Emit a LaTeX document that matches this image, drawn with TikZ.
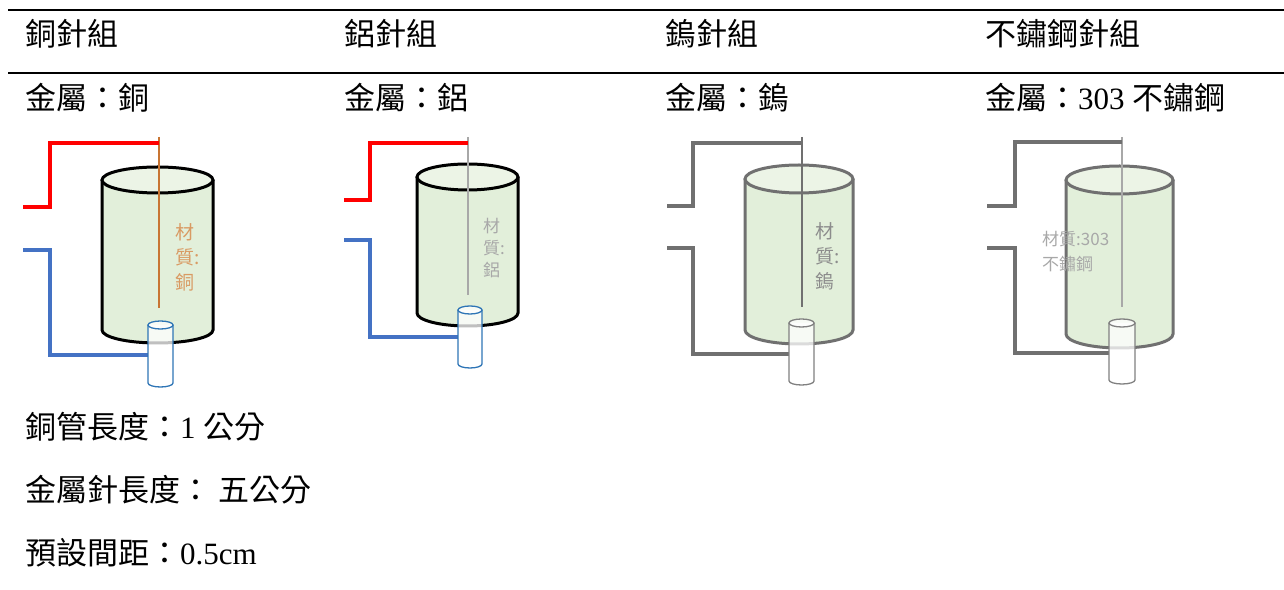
\documentclass[tikz,border=0pt]{standalone}
\usepackage{fontspec}
\setmainfont{Liberation Serif}
\newfontfamily\cjk{Noto Sans CJK TC}

\definecolor{liquid}{HTML}{E2EFDA}
\definecolor{liquidtop}{HTML}{ECF4E6}
\definecolor{wireblue}{HTML}{4472C4}
\definecolor{pipeblue}{HTML}{2E75B6}
\definecolor{copper}{HTML}{C87533}
\definecolor{coppertag}{HTML}{D99A63}
\definecolor{wiregray}{HTML}{707070}
\definecolor{pipegray}{HTML}{808080}
\definecolor{paletag}{HTML}{A8A8A8}
\definecolor{midtag}{HTML}{8C8C8C}

\tikzset{
  head/.style={anchor=west,inner sep=0pt,font=\fontsize{31}{37}\selectfont},
  rule/.style={line width=2.5pt},
  wire/.style={line width=4.5pt},
  needle/.style={line width=2pt},
  pipe/.style={line width=1.3pt,fill=white,fill opacity=.75},
  tag/.style={anchor=west,inner sep=0pt,align=left,font=\cjk\fontsize{19}{25}\selectfont},
}

% beaker: left x, right x, top y, bottom y, y radius, outline colour
\newcommand\beaker[6]{%
  \pgfmathsetmacro\bkrx{(#2-#1)/2}
  \fill[liquid] (#1,#3) -- (#1,#4) arc[start angle=180,end angle=360,x radius=\bkrx pt,y radius=#5pt] -- (#2,#3) -- cycle;
  \draw[#6,line width=3pt] (#1,#3) -- (#1,#4) arc[start angle=180,end angle=360,x radius=\bkrx pt,y radius=#5pt] -- (#2,#3);
  \draw[#6,line width=3pt,fill=liquidtop] ({(#1+#2)/2},#3) ellipse[x radius=\bkrx pt,y radius=#5pt];
}
% small pipe: left x, right x, top y, bottom y, colour
\newcommand\tube[5]{%
  \pgfmathsetmacro\tbrx{(#2-#1)/2}
  \draw[#5,pipe] (#1,#3) -- (#1,#4) arc[start angle=180,end angle=360,x radius=\tbrx pt,y radius=4pt] -- (#2,#3);
  \draw[#5,pipe] ({(#1+#2)/2},#3) ellipse[x radius=\tbrx pt,y radius=4pt];
}

\begin{document}
\begin{tikzpicture}[x=1pt,y=1pt]
  \useasboundingbox (0,0) rectangle (1284,589);

  % table rules
  \draw[rule] (8,579) -- (1284,579);
  \draw[rule] (8,516) -- (1284,516);

  % headings
  \node[head] (cuhead) at (25,555) {\cjk 銅針組};
  \node[head] (alhead) at (344,555) {\cjk 鋁針組};
  \node[head] (whead) at (665,555) {\cjk 鎢針組};
  \node[head] (sshead) at (985,555) {\cjk 不鏽鋼針組};
  \node[head] (cumetal) at (25,491) {\cjk 金屬：銅};
  \node[head] (almetal) at (344,491) {\cjk 金屬：鋁};
  \node[head] (wmetal) at (665,491) {\cjk 金屬：鎢};
  \node[head] (ssmetal) at (985,491) {{\cjk 金屬：}303 {\cjk 不鏽鋼}};

  % copper
  \beaker{102}{213}{409}{259}{13}{black}
  \coordinate (cu-needle) at (159,446);
  \coordinate (cu-pipe) at (148,234);
  \coordinate (cu-red) at (23,382);
  \coordinate (cu-blue) at (23,339);
  \draw[needle,copper] (159,452) -- (159,281);
  \draw[wire,red] (cu-red) -- ++(27,0) |- (cu-needle);
  \draw[wire,wireblue] (cu-blue) -- ++(27,0) |- (cu-pipe);
  \tube{148}{173}{264}{206}{pipeblue}
  \node[tag,text=coppertag] (cutag) at (175,332) {材\\質:\\銅};

  % aluminium
  \beaker{417}{518}{412}{276}{13}{black}
  \coordinate (al-needle) at (468,446);
  \coordinate (al-pipe) at (458,252);
  \coordinate (al-red) at (344,389);
  \coordinate (al-blue) at (344,349);
  \draw[needle,paletag] (468,452) -- (468,294);
  \draw[wire,red] (al-red) -- ++(26,0) |- (al-needle);
  \draw[wire,wireblue] (al-blue) -- ++(26,0) |- (al-pipe);
  \tube{458}{482}{279}{225}{pipeblue}
  \node[tag,text=paletag,font=\cjk\fontsize{17}{22}\selectfont] (altag) at (483,341) {材\\質:\\鋁};

  % tungsten
  \beaker{745}{853}{410}{259}{14}{wiregray}
  \coordinate (w-needle) at (802,446);
  \coordinate (w-pipe) at (789,235);
  \coordinate (w-top) at (667,383);
  \coordinate (w-bot) at (667,341);
  \draw[needle,wiregray] (802,452) -- (802,282);
  \draw[wire,wiregray] (w-top) -- ++(26,0) |- (w-needle);
  \draw[wire,wiregray] (w-bot) -- ++(26,0) |- (w-pipe);
  \tube{789}{814}{266}{208}{pipegray}
  \node[tag,text=midtag] (wtag) at (815,333) {材\\質:\\鎢};

  % stainless steel
  \beaker{1066}{1173}{409}{255}{14}{wiregray}
  \coordinate (ss-needle) at (1122,447);
  \coordinate (ss-pipe) at (1109,236);
  \coordinate (ss-top) at (987,383);
  \coordinate (ss-bot) at (987,341);
  \draw[needle,paletag] (1122,452) -- (1122,282);
  \draw[wire,wiregray] (ss-top) -- ++(28,0) |- (ss-needle);
  \draw[wire,wiregray] (ss-bot) -- ++(28,0) |- (ss-pipe);
  \tube{1109}{1135}{266}{209}{pipegray}
  \node[tag,text=paletag,font=\cjk\fontsize{17}{25}\selectfont] (sstag) at (1042,337) {材質:303\\不鏽鋼};

  % notes
  \node[head] (pipelen) at (25,162) {{\cjk 銅管長度：}1 {\cjk 公分}};
  \node[head] (needlelen) at (25,99) {{\cjk 金屬針長度：} {\cjk 五公分}};
  \node[head] (gap) at (25,36) {{\cjk 預設間距：}0.5cm};
\end{tikzpicture}
\end{document}
